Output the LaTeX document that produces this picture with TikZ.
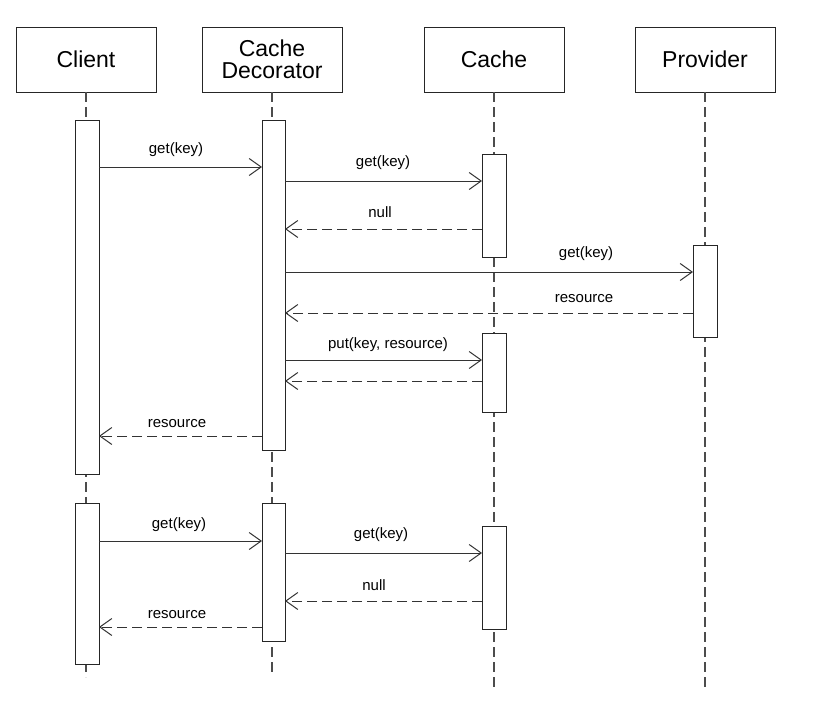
\documentclass[tikz,border=0pt]{standalone}
\usepackage{fontspec}
\setmainfont{Liberation Sans}
\usetikzlibrary{arrows.meta}
\begin{document}
\begin{tikzpicture}[x=1pt,y=-1pt,
  every node/.style={inner sep=0pt,outer sep=0pt},
  header/.style={draw=black!85,line width=1pt,minimum width=140pt,minimum height=65pt,align=center,
    font=\fontsize{23}{22}\selectfont},
  lifeline/.style={draw=black!70,line width=1.3pt,dash pattern=on 10pt off 5pt},
  act/.style={draw=black!85,fill=white,line width=1pt,minimum width=24pt},
  call/.style={draw=black!80,line width=1pt,-{Straight Barb[length=12pt,width=17pt]}},
  ret/.style={call,dash pattern=on 10pt off 5pt},
  lbl/.style={font=\fontsize{15}{17}\selectfont}]
\useasboundingbox (0,0) rectangle (832,712);
% headers
\node[header] (client) at (86,59.5) {Client};
\node[header] (deco) at (272,59.5) {Cache\\Decorator};
\node[header] (cache) at (494,59.5) {Cache};
\node[header] (prov) at (705,59.5) {Provider};
% lifeline ends
\coordinate (clientEnd) at (86,677);
\coordinate (decoEnd) at (272,674);
\coordinate (cacheEnd) at (494,687);
\coordinate (provEnd) at (705,687);
\draw[lifeline] (client.south) -- (clientEnd);
\draw[lifeline] (deco.south) -- (decoEnd);
\draw[lifeline] (cache.south) -- (cacheEnd);
\draw[lifeline] (prov.south) -- (provEnd);
% activations
\node[act,minimum height=354pt] (cl1) at (87,297) {};
\node[act,minimum height=161pt] (cl2) at (87,583.5) {};
\node[act,minimum height=330pt,minimum width=23pt] (de1) at (273.5,285) {};
\node[act,minimum height=138pt,minimum width=23pt] (de2) at (273.5,572) {};
\node[act,minimum height=103pt] (ca1) at (494,205.5) {};
\node[act,minimum height=79pt] (ca2) at (494,372.5) {};
\node[act,minimum height=103pt] (ca3) at (494,577.5) {};
\node[act,minimum height=92pt] (pr1) at (705,291) {};
% messages
\draw[call] (cl1.east |- 0,167) -- (de1.west |- 0,167);
\node[lbl] (m1) at (176,150) {get(key)};
\draw[call] (de1.east |- 0,181) -- (ca1.west |- 0,181);
\node[lbl] (m2) at (383,163) {get(key)};
\draw[ret] (ca1.west |- 0,229) -- (de1.east |- 0,229);
\node[lbl] (m3) at (380,212) {null};
\draw[call] (de1.east |- 0,272) -- (pr1.west |- 0,272);
\node[lbl] (m4) at (586,254) {get(key)};
\draw[ret] (pr1.west |- 0,313) -- (de1.east |- 0,313);
\node[lbl] (m5) at (584,299) {resource};
\draw[call] (de1.east |- 0,360) -- (ca2.west |- 0,360);
\node[lbl] (m6) at (388,345) {put(key, resource)};
\draw[ret] (ca2.west |- 0,381) -- (de1.east |- 0,381);
\draw[ret] (de1.west |- 0,436) -- (cl1.east |- 0,436);
\node[lbl] (m8) at (177,424) {resource};
\draw[call] (cl2.east |- 0,541) -- (de2.west |- 0,541);
\node[lbl] (m9) at (179,525) {get(key)};
\draw[call] (de2.east |- 0,553) -- (ca3.west |- 0,553);
\node[lbl] (m10) at (381,535) {get(key)};
\draw[ret] (ca3.west |- 0,601) -- (de2.east |- 0,601);
\node[lbl] (m11) at (374,585) {null};
\draw[ret] (de2.west |- 0,627) -- (cl2.east |- 0,627);
\node[lbl] (m12) at (177,615) {resource};
\end{tikzpicture}
\end{document}
